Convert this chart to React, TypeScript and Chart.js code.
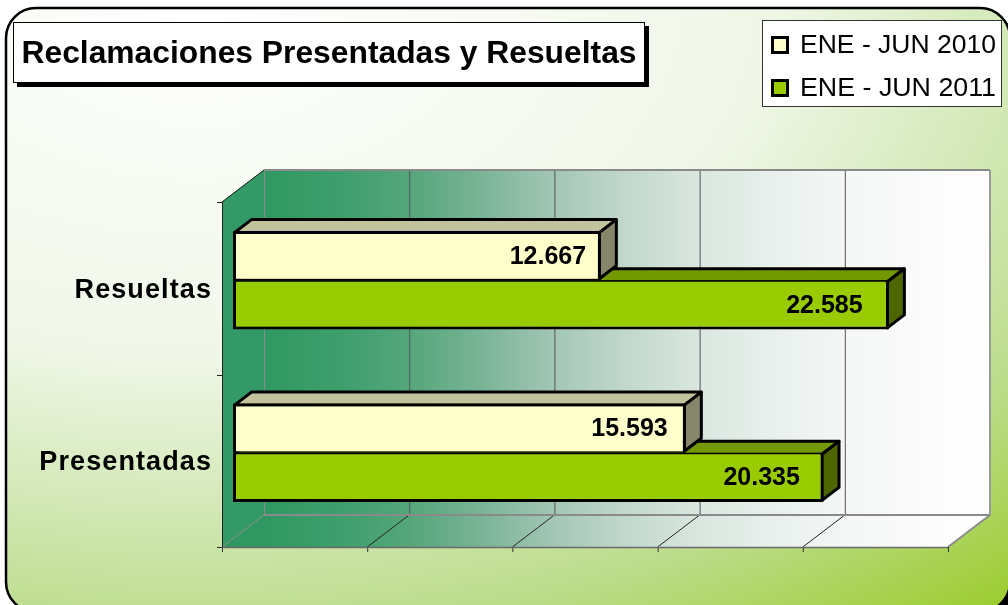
import React, { useEffect, useRef } from 'react';
import { Chart, registerables } from 'chart.js';

Chart.register(...registerables);

// ---- data ----
const chartTitle = 'Reclamaciones Presentadas y Resueltas';
const categories = ['Resueltas', 'Presentadas'];
const seriesNames = ['ENE - JUN 2010', 'ENE - JUN 2011'];
const values2010 = [12667, 15593];
const values2011 = [22585, 20335];
const xMin = 0;
const xMax = 25000;
const xStep = 5000;

// ---- styles ----
const FONT = "'Liberation Sans', Arial, Helvetica, sans-serif";
const frontColors = ['#ffffcc', '#99cc00'];
const topColors = ['#c2c29c', '#739900'];
const sideColors = ['#86866a', '#4d6600'];

const DEPTH_X = 42;
const DEPTH_Y = 32;
const BAR_OFF_X = 11;
const BAR_OFF_Y = 8;
const BAR_DX = 17;
const BAR_DY = 13;

const fmt = (v: number) => String(v).replace(/\B(?=(\d{3})+(?!\d))/g, '.');

function fitText(ctx: CanvasRenderingContext2D, text: string, x: number, y: number, width: number) {
  const w = ctx.measureText(text).width;
  const s = width / w;
  ctx.save();
  ctx.translate(x, y);
  ctx.scale(s, 1);
  ctx.fillText(text, 0, 0);
  ctx.restore();
}

function poly(ctx: CanvasRenderingContext2D, pts: number[][]) {
  ctx.beginPath();
  ctx.moveTo(pts[0][0], pts[0][1]);
  for (let i = 1; i < pts.length; i++) ctx.lineTo(pts[i][0], pts[i][1]);
  ctx.closePath();
}

function line(ctx: CanvasRenderingContext2D, x1: number, y1: number, x2: number, y2: number, color: string, w: number) {
  ctx.beginPath();
  ctx.moveTo(x1, y1);
  ctx.lineTo(x2, y2);
  ctx.strokeStyle = color;
  ctx.lineWidth = w;
  ctx.stroke();
}

const threeD = {
  id: 'threeD',
  beforeDraw(chart: any) {
    const ctx: CanvasRenderingContext2D = chart.ctx;
    ctx.save();
    (ctx as any).letterSpacing = '0px';

    // outer frame with shadow and gradient background
    const frame = (dx: number, dy: number) => {
      ctx.beginPath();
      (ctx as any).roundRect(6 + dx, 8 + dy, 1004, 604, 30);
    };
    frame(5, 5);
    ctx.fillStyle = '#000';
    ctx.fill();
    ctx.save();
    frame(0, 0);
    ctx.clip();
    ctx.translate(200, 0);
    ctx.scale(1, 1 / 1.6);
    const bg = ctx.createRadialGradient(0, 0, 0, 0, 0, 1261);
    bg.addColorStop(0, '#ffffff');
    bg.addColorStop(0.45, '#f0f7e8');
    bg.addColorStop(0.65, '#d2e8b5');
    bg.addColorStop(0.8, '#bcdc8b');
    bg.addColorStop(1, '#9ccc2e');
    ctx.fillStyle = bg;
    ctx.fillRect(-200, 0, 1008, 605 * 1.6);
    ctx.restore();
    frame(0, 0);
    ctx.strokeStyle = '#000';
    ctx.lineWidth = 2.5;
    ctx.stroke();

    // title box
    ctx.fillStyle = '#000';
    ctx.fillRect(17, 26, 632, 61);
    ctx.fillStyle = '#fff';
    ctx.fillRect(13, 22, 632, 61);
    ctx.strokeStyle = '#000';
    ctx.lineWidth = 1;
    ctx.strokeRect(13.5, 22.5, 631, 60);
    ctx.fillStyle = '#000';
    ctx.font = `bold 31px ${FONT}`;
    ctx.textAlign = 'center';
    ctx.textBaseline = 'middle';
    fitText(ctx, chartTitle, 329, 54, 615);

    // legend
    ctx.fillStyle = '#fff';
    ctx.fillRect(762, 20, 240, 87);
    ctx.strokeStyle = '#333';
    ctx.lineWidth = 1;
    ctx.strokeRect(762.5, 20.5, 239, 86);
    const rows = [45, 88];
    chart.data.datasets.forEach((ds: any, i: number) => {
      const y = rows[i];
      ctx.fillStyle = frontColors[i];
      ctx.fillRect(772, y - 8, 16, 16);
      ctx.strokeStyle = '#000';
      ctx.lineWidth = 3;
      ctx.strokeRect(772.5, y - 7.5, 15, 15);
      ctx.fillStyle = '#000';
      ctx.font = `26px ${FONT}`;
      ctx.textAlign = 'left';
      ctx.textBaseline = 'middle';
      fitText(ctx, ds.label, 800, y + 1, 196);
    });

    // 3D walls
    const ca = chart.chartArea;
    const xs = chart.scales.x;
    const ys = chart.scales.y;
    const fL = ca.left - BAR_OFF_X, fR = ca.right - BAR_OFF_X;
    const fT = ca.top + BAR_OFF_Y, fB = ca.bottom + BAR_OFF_Y;
    const bL = fL + DEPTH_X, bR = fR + DEPTH_X;
    const bT = fT - DEPTH_Y, bB = fB - DEPTH_Y;

    const wg = ctx.createLinearGradient(bL, 0, bR, 0);
    wg.addColorStop(0, '#2f9862');
    wg.addColorStop(0.1, '#3d9e6c');
    wg.addColorStop(0.2, '#55a67b');
    wg.addColorStop(0.3, '#7ab497');
    wg.addColorStop(0.4, '#a3c6b5');
    wg.addColorStop(0.5, '#c2d8cc');
    wg.addColorStop(0.6, '#dae7e0');
    wg.addColorStop(0.7, '#e8f0ec');
    wg.addColorStop(0.8, '#f4f7f5');
    wg.addColorStop(1, '#ffffff');

    // left wall
    poly(ctx, [[fL, fT], [bL, bT], [bL, bB], [fL, fB]]);
    ctx.fillStyle = '#339966';
    ctx.fill();
    // back wall
    ctx.fillStyle = wg;
    ctx.fillRect(bL, bT, bR - bL, bB - bT);
    // floor
    poly(ctx, [[fL, fB], [bL, bB], [bR, bB], [fR, fB]]);
    ctx.fillStyle = wg;
    ctx.fill();

    const ticks = (xs.ticks && xs.ticks.length ? xs.ticks.map((t: any) => t.value) : []);
    ticks.forEach((v: number, i: number) => {
      const xf = xs.getPixelForValue(v) - BAR_OFF_X;
      const xb = xf + DEPTH_X;
      if (i === 0) {
        line(ctx, xb + 0.5, bT, xb + 0.5, bB, '#8a8a8a', 1);
        line(ctx, xf, fB, xb, bB, '#8a8a8a', 1);
      } else if (i === ticks.length - 1) {
        line(ctx, xf, fB, xb, bB, '#8a8a8a', 2);
      } else {
        line(ctx, xb + 0.5, bT, xb + 0.5, bB, '#555555', 1);
        line(ctx, xf, fB, xb, bB, '#222222', 1);
      }
      // bottom tick marks
      line(ctx, xf + 0.5, fB, xf + 0.5, fB + 5, '#333333', 1);
    });
    // back wall borders
    line(ctx, bL, bT, bR, bT, '#8a8a8a', 2);
    line(ctx, bR, bT, bR, bB, '#9a9a9a', 2);
    line(ctx, bL, bB, bR, bB, '#8a8a8a', 2);
    line(ctx, fL, fB + 0.5, fR, fB + 0.5, '#6a6a6a', 1.5);
    // left axis + wall top edge
    line(ctx, fL + 0.5, fT, fL + 0.5, fB, '#222222', 1);
    line(ctx, fL, fT, bL, bT, '#111111', 1);
    // category ticks
    const n = categories.length;
    const bounds: number[] = [ca.top];
    for (let i = 0; i < n - 1; i++) {
      bounds.push((ys.getPixelForValue(i) + ys.getPixelForValue(i + 1)) / 2);
    }
    bounds.push(ca.bottom);
    bounds.forEach((b) => {
      const yy = Math.round(b + BAR_OFF_Y) + 0.5;
      line(ctx, fL - 5, yy, fL, yy, '#222222', 1);
    });

    ctx.restore();
    (ctx as any).letterSpacing = '1.1px';
  },
  beforeDatasetsDraw(chart: any) {
    (chart.ctx as any).letterSpacing = '0px';
  },
  beforeDatasetDraw(chart: any, args: any) {
    const ctx: CanvasRenderingContext2D = chart.ctx;
    const i = args.index;
    ctx.save();
    args.meta.data.forEach((el: any) => {
      const p = el.getProps(['x', 'y', 'base', 'height'], true);
      const x0 = Math.min(p.base, p.x) + 1.5;
      const x1 = Math.max(p.base, p.x) - 1.5;
      const y0 = p.y - p.height / 2 + 1.5;
      const y1 = p.y + p.height / 2 - 1.5;
      ctx.lineWidth = 3;
      ctx.strokeStyle = '#000';
      ctx.lineJoin = 'round';
      poly(ctx, [[x0, y0], [x0 + BAR_DX, y0 - BAR_DY], [x1 + BAR_DX, y0 - BAR_DY], [x1, y0]]);
      ctx.fillStyle = topColors[i];
      ctx.fill();
      ctx.stroke();
      poly(ctx, [[x1, y0], [x1 + BAR_DX, y0 - BAR_DY], [x1 + BAR_DX, y1 - BAR_DY], [x1, y1]]);
      ctx.fillStyle = sideColors[i];
      ctx.fill();
      ctx.stroke();
    });
    ctx.restore();
  },
  afterDatasetsDraw(chart: any) {
    const ctx: CanvasRenderingContext2D = chart.ctx;
    ctx.save();
    (ctx as any).letterSpacing = '0px';
    ctx.font = `bold 25px ${FONT}`;
    ctx.fillStyle = '#000';
    ctx.textAlign = 'right';
    ctx.textBaseline = 'middle';
    chart.data.datasets.forEach((ds: any, di: number) => {
      const meta = chart.getDatasetMeta(di);
      meta.data.forEach((el: any, j: number) => {
        const p = el.getProps(['x', 'y', 'base'], true);
        const tx = p.base + (p.x - p.base) * 0.96;
        ctx.fillText(fmt(ds.data[j]), tx, p.y + 1);
      });
    });
    ctx.restore();
  },
};

export default function App() {
  const ref = useRef<HTMLCanvasElement>(null);
  useEffect(() => {
    const canvas = ref.current as HTMLCanvasElement;
    const chart = new Chart(canvas, {
      type: 'bar',
      data: {
        labels: categories,
        datasets: [
          {
            label: seriesNames[0],
            data: values2010,
            backgroundColor: frontColors[0],
            borderColor: '#000',
            borderWidth: { top: 3, left: 3, right: 3, bottom: 1.5 } as any,
            borderSkipped: false,
            categoryPercentage: 0.57,
            barPercentage: 1,
          },
          {
            label: seriesNames[1],
            data: values2011,
            backgroundColor: frontColors[1],
            borderColor: '#000',
            borderWidth: { top: 1.5, left: 3, right: 3, bottom: 3 } as any,
            borderSkipped: false,
            categoryPercentage: 0.57,
            barPercentage: 1,
          },
        ],
      },
      options: {
        indexAxis: 'y',
        responsive: false,
        animation: false,
        devicePixelRatio: 1,
        events: [],
        layout: { padding: { left: 0, right: 49, top: 194, bottom: 66 } },
        scales: {
          x: {
            type: 'linear',
            display: false,
            min: xMin,
            max: xMax,
            ticks: { stepSize: xStep },
          },
          y: {
            type: 'category',
            grid: { display: false, drawTicks: false },
            border: { display: false },
            ticks: {
              color: '#000',
              font: { family: FONT, size: 27, weight: 'bold' },
              padding: 21,
              labelOffset: 10,
            },
            afterFit: (s: any) => {
              s.width = 233;
            },
          },
        },
        plugins: {
          legend: { display: false },
          title: { display: false },
          tooltip: { enabled: false },
        },
      } as any,
      plugins: [threeD as any],
    });
    return () => chart.destroy();
  }, []);
  return (
    <div style={{ position: 'fixed', left: 0, top: 0, width: 1008, height: 605 }}>
      <canvas ref={ref} width={1008} height={605} style={{ display: 'block' }} />
    </div>
  );
}
